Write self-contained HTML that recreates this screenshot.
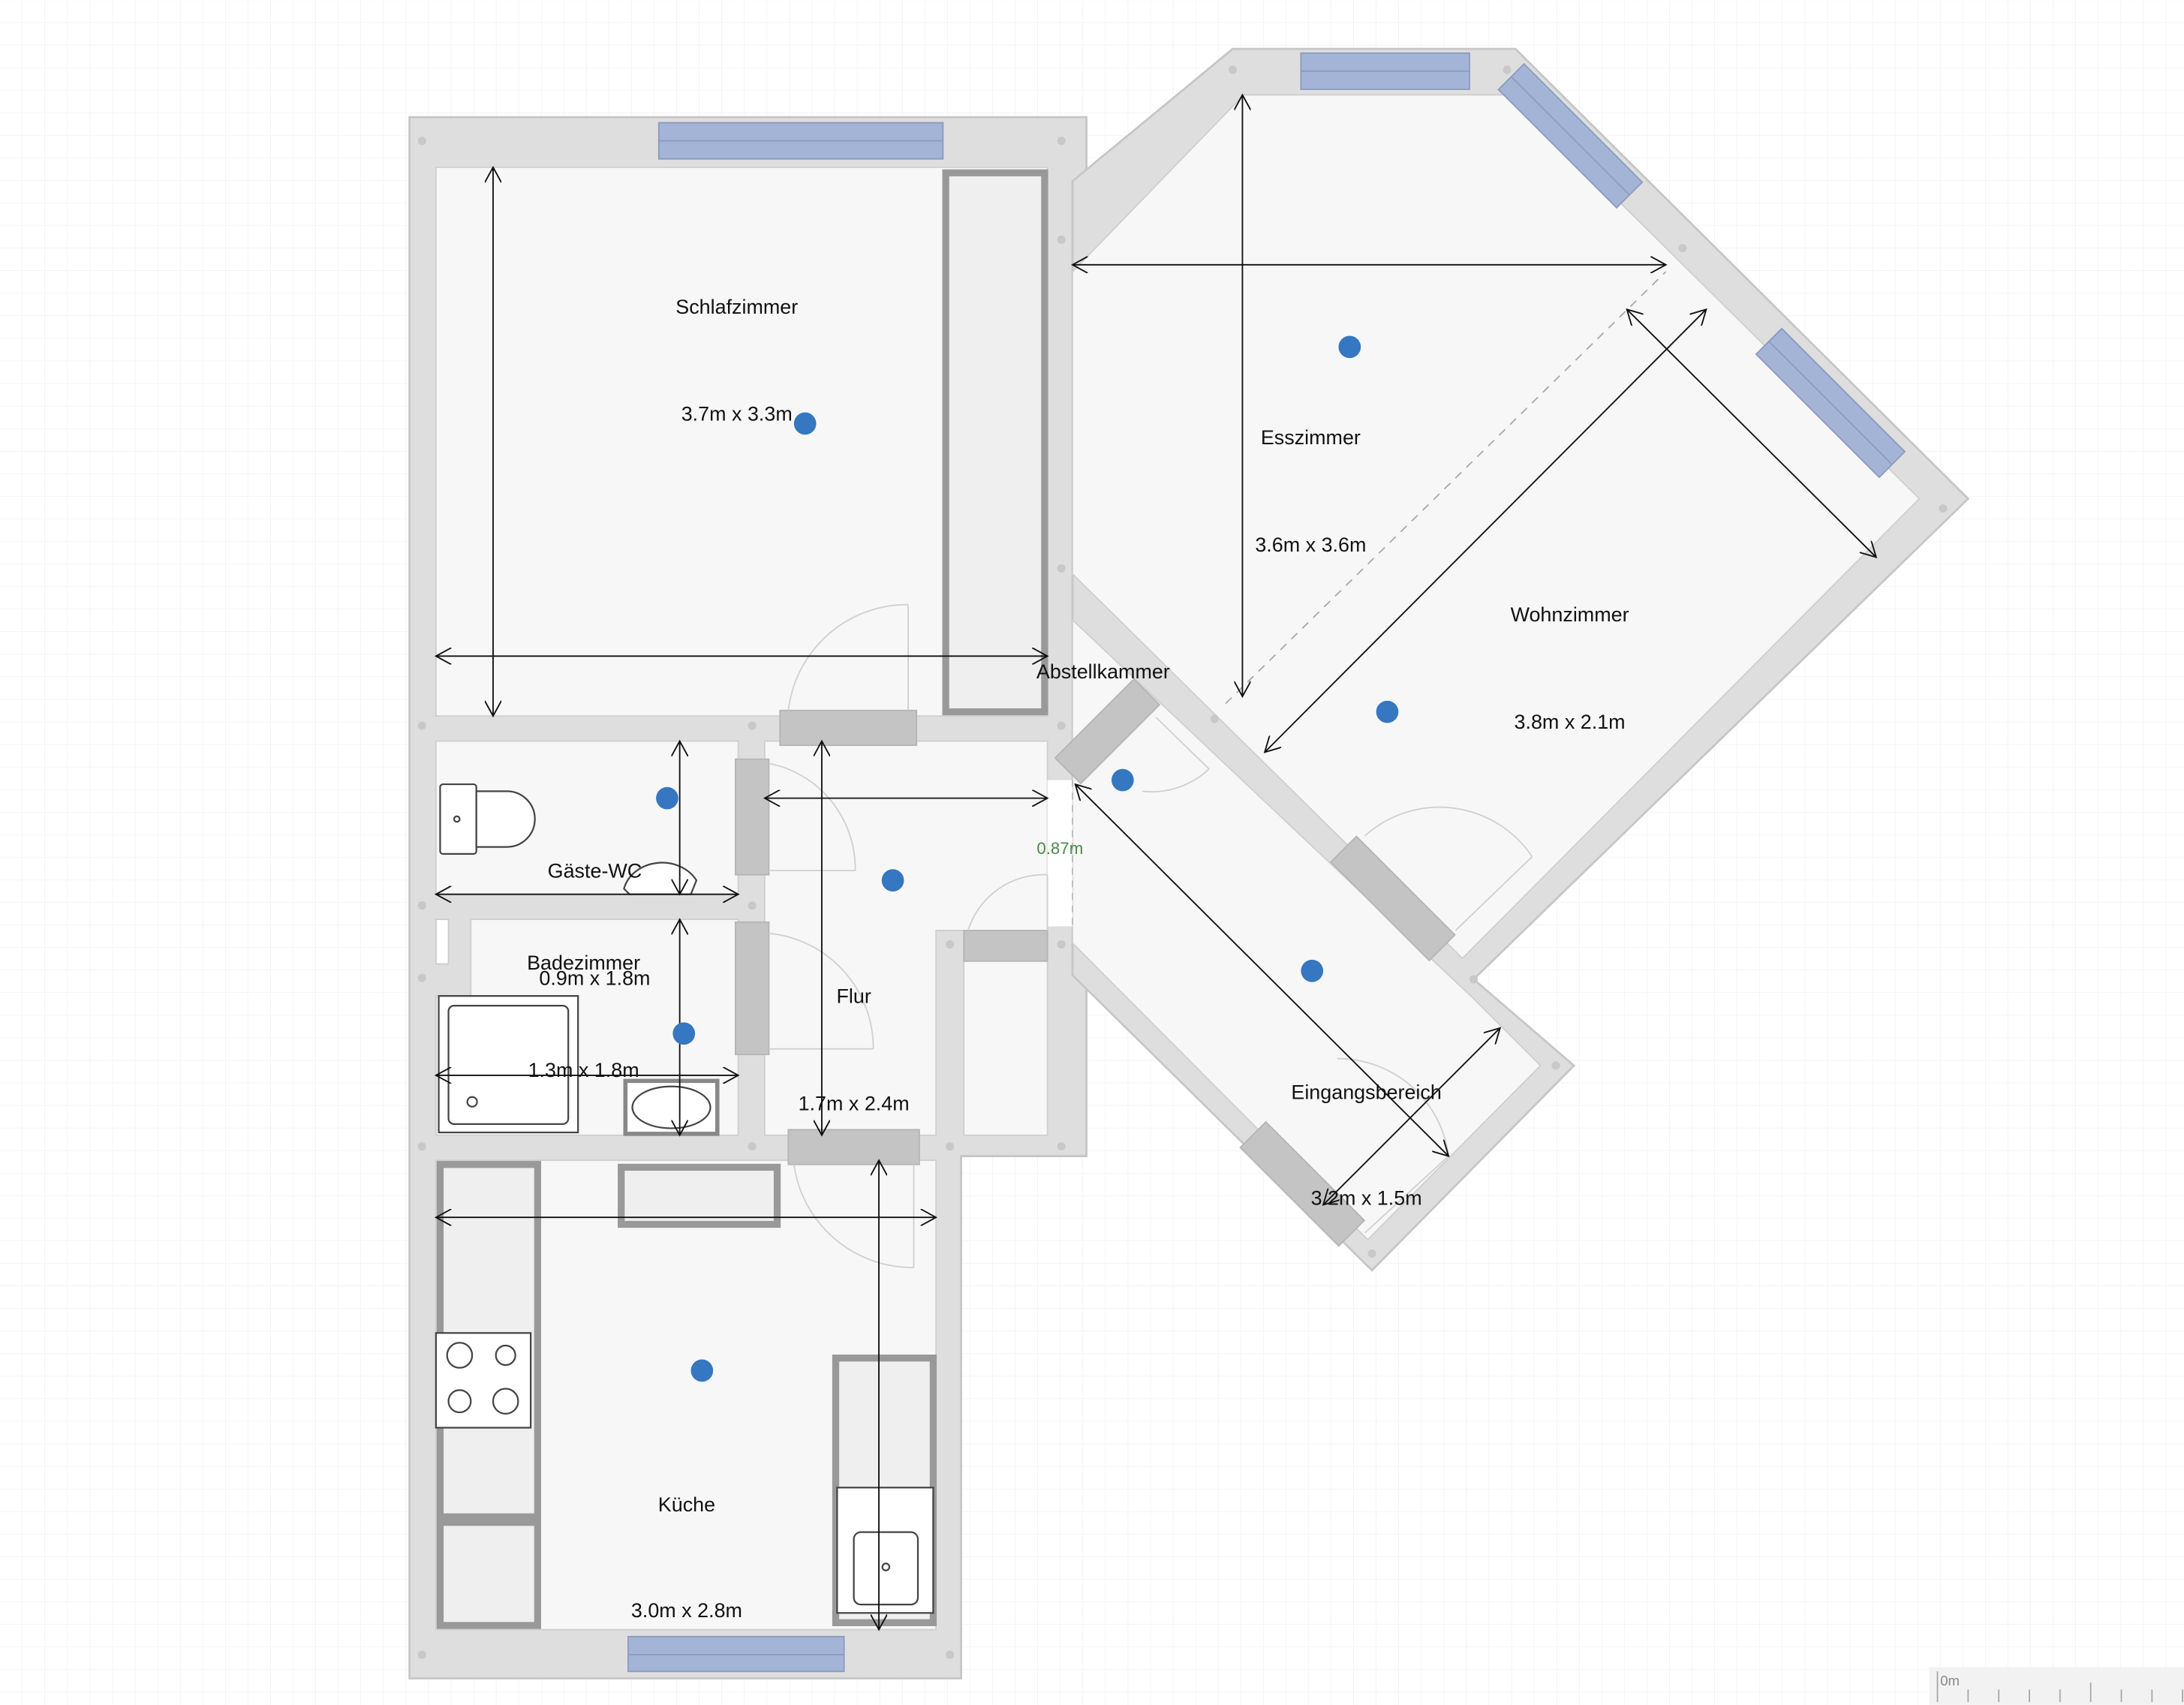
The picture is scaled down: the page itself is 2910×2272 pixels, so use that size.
<!DOCTYPE html>
<html><head><meta charset="utf-8"><style>
html,body{margin:0;padding:0;background:#fff;}
svg{display:block;}
text{font-family:"Liberation Sans",sans-serif;font-size:14.5px;fill:#111;}
</style></head><body>
<svg width="2910" height="2272" viewBox="0 0 1568 1224" xmlns="http://www.w3.org/2000/svg">
<defs>
<pattern id="g" width="16.2" height="16.2" patternUnits="userSpaceOnUse"><path d="M16.2 0V16.2H0" fill="none" stroke="#eeeeee" stroke-width="0.7"/></pattern>
<marker id="a" viewBox="0 0 12 12" refX="11" refY="6" markerWidth="12" markerHeight="12" orient="auto-start-reverse" markerUnits="userSpaceOnUse"><path d="M0 0L11 6L0 12" fill="none" stroke="#111" stroke-width="1"/></marker>
</defs>
<rect width="1568" height="1224" fill="#fff"/>
<rect width="1568" height="1224" fill="url(#g)"/>
<g fill="#dedede" stroke="#c6c6c6" stroke-width="1.5">
<polygon points="294,84 780,84 780,830 690,830 690,1205 294,1205"/>
<polygon points="770,130 885,35 1088,35 1413,358 1058,703 1130,765 985,912 770,700"/>
</g>
<g fill="#f7f7f7" stroke="#cfcfcf" stroke-width="1">
<rect x="313" y="120" width="439" height="394"/>
<polygon points="770,195 893,68 1085,68 1378,358 1050,688 770,412"/>
<polygon points="770,445 1058,717 1106,765 982,890 770,677"/>
<rect x="313" y="532" width="217" height="110"/>
<polygon points="338,660 530,660 530,815 313,815 313,715 338,715"/>
<polygon points="549,532 752,532 752,668 672,668 672,815 549,815"/>
<rect x="692" y="668" width="60" height="147"/>
<rect x="313" y="833" width="359" height="337"/>
</g>
<rect x="752" y="560" width="18" height="105" fill="#fff"/>
<line x1="770" y1="560" x2="770" y2="665" stroke="#bbb" stroke-dasharray="5,4"/>
<rect x="313" y="660" width="9" height="32" fill="#fff" stroke="#ccc"/>
<line x1="880" y1="505" x2="1196" y2="195" stroke="#aaa" stroke-dasharray="6,5"/>
<g fill="#c8c8c8">
<circle cx="303" cy="101" r="3"/><circle cx="762" cy="101" r="3"/><circle cx="303" cy="521" r="3"/><circle cx="540" cy="521" r="3"/><circle cx="762" cy="521" r="3"/><circle cx="303" cy="650" r="3"/><circle cx="540" cy="650" r="3"/><circle cx="303" cy="702" r="3"/><circle cx="303" cy="823" r="3"/><circle cx="540" cy="823" r="3"/><circle cx="682" cy="823" r="3"/><circle cx="762" cy="823" r="3"/><circle cx="682" cy="678" r="3"/><circle cx="762" cy="678" r="3"/><circle cx="303" cy="1188" r="3"/><circle cx="682" cy="1188" r="3"/><circle cx="885" cy="50" r="3"/><circle cx="1082" cy="50" r="3"/><circle cx="1208" cy="178" r="3"/><circle cx="1395" cy="365" r="3"/><circle cx="1058" cy="703" r="3"/><circle cx="1117" cy="765" r="3"/><circle cx="985" cy="900" r="3"/><circle cx="762" cy="172" r="3"/><circle cx="762" cy="408" r="3"/><circle cx="872" cy="516" r="3"/>
</g>
<g fill="#a4b4d6" stroke="#8b9cc0" stroke-width="1">
<rect x="473" y="88" width="204" height="26"/><line x1="473" y1="101" x2="677" y2="101"/>
<rect x="934" y="38" width="121" height="26"/><line x1="934" y1="51" x2="1055" y2="51"/>
<rect x="451" y="1175" width="155" height="25"/><line x1="451" y1="1188" x2="606" y2="1188"/>
<g transform="translate(1085,55) rotate(45)"><rect x="0" y="-13" width="120" height="26"/><line x1="0" y1="0" x2="120" y2="0"/></g>
<g transform="translate(1270,245) rotate(45)"><rect x="0" y="-13" width="125" height="26"/><line x1="0" y1="0" x2="125" y2="0"/></g>
</g>
<g fill="#c4c4c4" stroke="#b5b5b5">
<rect x="560" y="510" width="98" height="25"/>
<rect x="528" y="545" width="24" height="83"/>
<rect x="528" y="662" width="24" height="95"/>
<rect x="566" y="811" width="94" height="25"/>
<rect x="692" y="668" width="60" height="22"/>
<g transform="translate(795,525) rotate(-45)"><rect x="-40" y="-13" width="80" height="26"/></g>
<g transform="translate(1000,645) rotate(45)"><rect x="-50" y="-13" width="100" height="26"/></g>
<g transform="translate(935,850) rotate(45)"><rect x="-50" y="-13" width="100" height="26"/></g>
</g>
<g fill="none" stroke="#d0d0d0" stroke-width="1">
<path d="M652,434V510M566,510A86,86 0 0 1 652,434"/>
<path d="M552,625H614M552,548A77,77 0 0 1 614,625"/>
<path d="M552,753H627M552,670A83,83 0 0 1 627,753"/>
<path d="M656,836V910M570,836A86,86 0 0 0 656,910"/>
<path d="M752,628V668M695,668A57,57 0 0 1 752,628"/>
<path d="M830,515L868,552M868,552A60,60 0 0 1 820,568"/>
<path d="M1045,668L1100,615M980,600A80,80 0 0 1 1100,615"/>
<path d="M980,885L1040,830M1040,830A80,80 0 0 0 960,760"/>
</g>
<g fill="#efefef" stroke="#999" stroke-width="5">
<rect x="679" y="124" width="71" height="387"/>
<rect x="316" y="836" width="70" height="253"/>
<rect x="316" y="1093" width="70" height="74"/>
<rect x="446" y="838" width="112" height="41"/>
<rect x="600" y="975" width="70" height="190"/>
</g>
<g fill="#fff" stroke="#444" stroke-width="1.2">
<rect x="313" y="957" width="68" height="68"/>
<circle cx="330" cy="973" r="9"/><circle cx="363" cy="973" r="7"/><circle cx="330" cy="1006" r="8"/><circle cx="363" cy="1006" r="9"/>
<rect x="601" y="1068" width="69" height="90"/>
<rect x="613" y="1100" width="46" height="52" rx="5"/><circle cx="636" cy="1125" r="2.5"/>
<rect x="316" y="563" width="26" height="50" rx="2"/><circle cx="328" cy="588" r="2"/>
<path d="M342,568H364A20,20 0 0 1 364,608H342Z"/>
<rect x="315" y="715" width="100" height="98"/><rect x="322" y="722" width="86" height="85" rx="4"/><circle cx="339" cy="791" r="3.5"/>
<rect x="449" y="776" width="66" height="38" stroke="#888" stroke-width="3"/><ellipse cx="482" cy="795" rx="28" ry="15"/>
<path d="M448,638A28,24 0 0 1 500,632L496,642H452Z"/>
</g>
<g stroke="#111" stroke-width="1" marker-start="url(#a)" marker-end="url(#a)">
<line x1="354" y1="120" x2="354" y2="514"/>
<line x1="313" y1="471" x2="752" y2="471"/>
<line x1="892" y1="68" x2="892" y2="500"/>
<line x1="770" y1="190" x2="1196" y2="190"/>
<line x1="1168" y1="222" x2="1347" y2="400"/>
<line x1="1225" y1="222" x2="908" y2="540"/>
<line x1="488" y1="532" x2="488" y2="642"/>
<line x1="313" y1="642" x2="530" y2="642"/>
<line x1="488" y1="660" x2="488" y2="815"/>
<line x1="313" y1="772" x2="530" y2="772"/>
<line x1="590" y1="532" x2="590" y2="815"/>
<line x1="549" y1="573" x2="752" y2="573"/>
<line x1="313" y1="874" x2="672" y2="874"/>
<line x1="631" y1="833" x2="631" y2="1170"/>
<line x1="772" y1="563" x2="1040" y2="830"/>
<line x1="1077" y1="738" x2="950" y2="865"/>
</g>
<g fill="#3577c0">
<circle cx="578" cy="304" r="8"/><circle cx="969" cy="249" r="8"/><circle cx="996" cy="511" r="8"/><circle cx="806" cy="560" r="8"/><circle cx="479" cy="573" r="8"/><circle cx="641" cy="632" r="8"/><circle cx="491" cy="742" r="8"/><circle cx="942" cy="697" r="8"/><circle cx="504" cy="984" r="8"/>
</g>
<text x="529" y="225" text-anchor="middle">Schlafzimmer</text>
<text x="529" y="302" text-anchor="middle">3.7m x 3.3m</text>
<text x="941" y="319" text-anchor="middle">Esszimmer</text>
<text x="941" y="396" text-anchor="middle">3.6m x 3.6m</text>
<text x="1127" y="446" text-anchor="middle">Wohnzimmer</text>
<text x="1127" y="523" text-anchor="middle">3.8m x 2.1m</text>
<text x="792" y="487" text-anchor="middle">Abstellkammer</text>
<text x="761" y="613" text-anchor="middle" style="font-size:12px;fill:#4a8a4a">0.87m</text>
<text x="427" y="630" text-anchor="middle">Gäste-WC</text>
<text x="419" y="696" text-anchor="middle">Badezimmer</text>
<text x="427" y="707" text-anchor="middle">0.9m x 1.8m</text>
<text x="419" y="773" text-anchor="middle">1.3m x 1.8m</text>
<text x="613" y="720" text-anchor="middle">Flur</text>
<text x="613" y="797" text-anchor="middle">1.7m x 2.4m</text>
<text x="981" y="789" text-anchor="middle">Eingangsbereich</text>
<text x="981" y="865" text-anchor="middle">3.2m x 1.5m</text>
<text x="493" y="1085" text-anchor="middle">Küche</text>
<text x="493" y="1161" text-anchor="middle">3.0m x 2.8m</text>
<rect x="1385" y="1197" width="183" height="27" fill="#f2f2f2"/>
<g stroke="#aaa" stroke-width="1">
<line x1="1391" y1="1200" x2="1391" y2="1222"/><line x1="1413" y1="1213" x2="1413" y2="1222"/><line x1="1435" y1="1213" x2="1435" y2="1222"/><line x1="1457" y1="1213" x2="1457" y2="1222"/><line x1="1479" y1="1213" x2="1479" y2="1222"/><line x1="1501" y1="1208" x2="1501" y2="1222"/><line x1="1523" y1="1213" x2="1523" y2="1222"/><line x1="1545" y1="1213" x2="1545" y2="1222"/><line x1="1567" y1="1213" x2="1567" y2="1222"/>
</g>
<text x="1393" y="1210" style="font-size:10px;fill:#888">0m</text>
</svg>
</body></html>
